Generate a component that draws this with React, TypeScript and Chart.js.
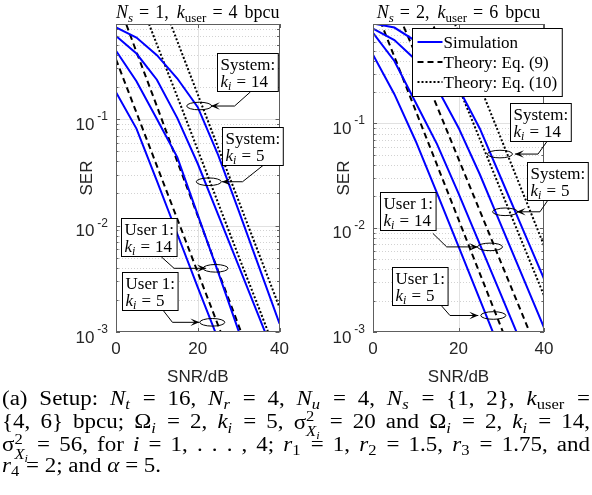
import React, { useEffect, useRef } from 'react';
import { Chart, registerables } from 'chart.js';

Chart.register(...registerables);

// ---------- data ----------
const SNR_DB = [0, 5, 10, 15, 20, 25, 30, 35, 40];
const X_TICKS = [0, 20, 40];
const Y_DECADES = [1e-3, 1e-2, 1e-1];
const Y_DECADE_EXP = ['-3', '-2', '-1'];
const LEGEND_LABELS = ['Simulation', 'Theory: Eq. (9)', 'Theory: Eq. (10)'];

// Left panel: Ns = 1, k_user = 4 bpcu
const leftSimSys14 = [0.724, 0.582, 0.398, 0.240, 0.129, 0.0457, 0.0138, 0.00407, 0.0012];
const leftSimSys5 = [0.603, 0.412, 0.234, 0.102, 0.038, 0.0126, 0.00417, 0.00138, 0.000457];
const leftSimUser14 = [0.437, 0.226, 0.1, 0.0437, 0.0126, 0.00363, 0.00102, 0.000316];
const leftSimUser5 = [0.178, 0.0813, 0.0263, 0.00832, 0.00263, 0.000851, 0.000275];
const leftEq9User5 = [0.363, 0.115, 0.0363, 0.0115, 0.00363, 0.00115, 0.000363];
const leftEq9User14 = [1.41, 0.427, 0.132, 0.0398, 0.0123, 0.00372, 0.00115, 0.000347];
const leftEq10Sys5 = [5.0, 1.58, 0.501, 0.162, 0.0512, 0.0162, 0.00513, 0.00166, 0.000525];
const leftEq10Sys14 = [17.0, 5.37, 1.7, 0.537, 0.17, 0.0537, 0.017, 0.00537, 0.0017];

// Right panel: Ns = 2, k_user = 6 bpcu
const rightSimSys14 = [0.912, 0.832, 0.617, 0.38, 0.219, 0.0891, 0.0295, 0.00977, 0.00324];
const rightSimSys5 = [0.813, 0.631, 0.407, 0.219, 0.0912, 0.0324, 0.0105, 0.00339, 0.0011];
const rightSimUser14 = [0.741, 0.398, 0.158, 0.0631, 0.0214, 0.00692, 0.00224, 0.000724];
const rightSimUser5 = [0.457, 0.191, 0.0676, 0.0214, 0.00661, 0.00204, 0.000631];
const rightEq9User5 = [1.445, 0.437, 0.132, 0.0398, 0.012, 0.00363, 0.0011, 0.000331];
const rightEq9User14 = [4.35, 1.38, 0.457, 0.145, 0.0457, 0.0145, 0.00457, 0.00145, 0.000457];
const rightEq10Sys5 = [22.4, 7.08, 2.24, 0.708, 0.224, 0.0708, 0.0224, 0.00708, 0.00224];
const rightEq10Sys14 = [81.3, 25.1, 7.76, 2.4, 0.741, 0.229, 0.0708, 0.0219, 0.00676];

// Annotation anchors in data units [SNR dB, SER]
const leftNotes = [
  { kind: 'System:', k: '14', box: [24.7, 0.414], arrow: [[32.9, 0.18], [29.0, 0.1324], [23.2, 0.1324]], ellipse: [20.35, 0.1324] },
  { kind: 'System:', k: '5', box: [25.9, 0.0847], arrow: [[36.7, 0.0386], [30.95, 0.02576], [25.9, 0.02576]], ellipse: [22.7, 0.02576] },
  { kind: 'User 1:', k: '14', box: [1.33, 0.01169], arrow: [[11.06, 0.00509], [14.2, 0.003963], [22.0, 0.003963]], ellipse: [24.33, 0.003963] },
  { kind: 'User 1:', k: '5', box: [1.57, 0.003681], arrow: [[11.46, 0.00161], [13.8, 0.001233], [20.4, 0.001233]], ellipse: [23.55, 0.001233] },
];
const rightNotes = [
  { kind: 'System:', k: '14', box: [32.05, 0.156], arrow: [[42.1, 0.0809], [38.6, 0.0509], [33.2, 0.0509]], ellipse: [29.7, 0.0509] },
  { kind: 'System:', k: '5', box: [36.0, 0.04266], arrow: [[41.4, 0.01968], [39.06, 0.01422], [33.6, 0.01422]], ellipse: [30.9, 0.01422] },
  { kind: 'User 1:', k: '14', box: [1.64, 0.02183], arrow: [[14.0, 0.00883], [17.24, 0.00655], [24.56, 0.00655]], ellipse: [27.37, 0.00655] },
  { kind: 'User 1:', k: '5', box: [4.37, 0.004227], arrow: [[15.67, 0.001854], [18.0, 0.00144], [24.63, 0.00144]], ellipse: [28.14, 0.00144] },
];
const rightLegendAnchor = [9.05, 0.816];

// ---------- helpers ----------
type Seg = { t?: string; it?: boolean; sub?: boolean; gap?: number };
const SERIF = '"Liberation Serif", "Times New Roman", serif';
const SANS = '"Liberation Sans", Arial, sans-serif';

function segFont(s: Seg, size: number) {
  const sz = s.sub ? Math.round(size * 0.72) : size;
  return `${s.it ? 'italic ' : ''}${sz}px ${SERIF}`;
}
function richWidth(ctx: CanvasRenderingContext2D, segs: Seg[], size: number) {
  let w = 0;
  for (const s of segs) {
    if (s.gap) { w += s.gap; continue; }
    ctx.font = segFont(s, size);
    w += ctx.measureText(s.t || '').width;
  }
  return w;
}
function drawRich(ctx: CanvasRenderingContext2D, segs: Seg[], x: number, y: number, size: number, align = 'left') {
  const w = richWidth(ctx, segs, size);
  let cx = align === 'center' ? x - w / 2 : x;
  ctx.textAlign = 'left';
  ctx.textBaseline = 'alphabetic';
  for (const s of segs) {
    if (s.gap) { cx += s.gap; continue; }
    ctx.font = segFont(s, size);
    const dy = s.sub ? size * 0.22 : 0;
    ctx.fillText(s.t || '', cx, y + dy);
    cx += ctx.measureText(s.t || '').width;
  }
}
function kLine(k: string): Seg[] {
  return [{ t: 'k', it: true }, { t: 'i', it: true, sub: true }, { gap: 5 }, { t: '=' }, { gap: 5 }, { t: k }];
}

type Panel = {
  title: Seg[];
  ymax: number;
  padRight: number;
  series: { data: number[]; kind: 'sim' | 'eq9' | 'eq10' }[];
  notes: typeof leftNotes;
  legend?: number[];
};

function drawArrow(ctx: CanvasRenderingContext2D, pts: number[][]) {
  ctx.beginPath();
  ctx.moveTo(pts[0][0], pts[0][1]);
  for (let i = 1; i < pts.length; i++) ctx.lineTo(pts[i][0], pts[i][1]);
  ctx.stroke();
  const [tx, ty] = pts[pts.length - 1];
  const [px, py] = pts[pts.length - 2];
  const dx = tx - px, dy = ty - py;
  const L = Math.hypot(dx, dy) || 1;
  const ux = dx / L, uy = dy / L;
  const len = 9, hw = 3.8;
  const bx = tx - ux * len, by = ty - uy * len;
  ctx.beginPath();
  ctx.moveTo(tx, ty);
  ctx.lineTo(bx - uy * hw, by + ux * hw);
  ctx.lineTo(tx - ux * len * 0.55, ty - uy * len * 0.55);
  ctx.lineTo(bx + uy * hw, by - ux * hw);
  ctx.closePath();
  ctx.fill();
}

function makePlugin(panel: Panel) {
  return {
    id: 'matlabLook',
    beforeDatasetsDraw(chart: any) {
      const { ctx, chartArea: a, scales } = chart;
      const x = scales.x, y = scales.y;
      ctx.save();
      ctx.lineWidth = 1;
      // vertical major grid
      ctx.strokeStyle = '#e1e1e1';
      for (const v of X_TICKS) {
        const px = Math.round(x.getPixelForValue(v)) + 0.5;
        if (px <= a.left + 1 || px >= a.right - 1) continue;
        ctx.beginPath(); ctx.moveTo(px, a.top); ctx.lineTo(px, a.bottom); ctx.stroke();
      }
      // horizontal grid (log)
      for (let d = -3; d <= 0; d++) {
        for (let k = 1; k <= 9; k++) {
          const v = k * Math.pow(10, d);
          if (v <= 1e-3 * 1.0001 || v >= panel.ymax) continue;
          const py = Math.round(y.getPixelForValue(v)) + 0.5;
          if (k === 1) { ctx.strokeStyle = '#e1e1e1'; ctx.setLineDash([]); }
          else { ctx.strokeStyle = '#d2d2d2'; ctx.setLineDash([1, 2]); }
          ctx.beginPath(); ctx.moveTo(a.left, py); ctx.lineTo(a.right, py); ctx.stroke();
        }
      }
      ctx.setLineDash([]);
      ctx.restore();
    },
    afterDatasetsDraw(chart: any) {
      const { ctx, chartArea: a, scales } = chart;
      const x = scales.x, y = scales.y;
      ctx.save();
      // axes box
      ctx.strokeStyle = '#5e5e5e';
      ctx.lineWidth = 1;
      ctx.strokeRect(Math.round(a.left) + 0.5, Math.round(a.top) + 0.5, Math.round(a.right - a.left) - 1, Math.round(a.bottom - a.top) - 1);
      // tick marks (inward)
      ctx.beginPath();
      for (const v of X_TICKS) {
        const px = Math.round(x.getPixelForValue(v)) + 0.5;
        ctx.moveTo(px, a.bottom); ctx.lineTo(px, a.bottom - 4);
        ctx.moveTo(px, a.top); ctx.lineTo(px, a.top + 4);
      }
      for (let d = -3; d <= 0; d++) {
        for (let k = 1; k <= 9; k++) {
          const v = k * Math.pow(10, d);
          if (v < 1e-3 * 0.999 || v > panel.ymax) continue;
          const py = Math.round(y.getPixelForValue(v)) + 0.5;
          const len = k === 1 ? 4 : 2.5;
          ctx.moveTo(a.left, py); ctx.lineTo(a.left + len, py);
          ctx.moveTo(a.right, py); ctx.lineTo(a.right - len, py);
        }
      }
      ctx.stroke();

      // annotations
      ctx.strokeStyle = '#000';
      ctx.fillStyle = '#000';
      ctx.lineWidth = 1;
      for (const n of panel.notes) {
        const ex = x.getPixelForValue(n.ellipse[0]);
        const ey = y.getPixelForValue(n.ellipse[1]);
        ctx.beginPath();
        ctx.ellipse(ex, ey, 12.5, 3.8, 0, 0, Math.PI * 2);
        ctx.stroke();
        const pts = n.arrow.map((p) => [x.getPixelForValue(p[0]), y.getPixelForValue(p[1])]);
        drawArrow(ctx, pts);
        const bx = Math.round(x.getPixelForValue(n.box[0])) + 0.5;
        const by = Math.round(y.getPixelForValue(n.box[1])) + 0.5;
        const l1: Seg[] = [{ t: n.kind }];
        const l2 = kLine(n.k);
        const w = Math.max(richWidth(ctx, l1, 17), richWidth(ctx, l2, 17)) + 6;
        const h = 38;
        ctx.fillStyle = '#fff';
        ctx.fillRect(bx, by, w, h);
        ctx.strokeRect(bx, by, w, h);
        ctx.fillStyle = '#000';
        drawRich(ctx, l1, bx + 3, by + 16, 17);
        drawRich(ctx, l2, bx + 3, by + 33, 17);
      }

      // legend
      if (panel.legend) {
        const lx = Math.round(x.getPixelForValue(panel.legend[0])) + 0.5;
        const ly = Math.round(y.getPixelForValue(panel.legend[1])) + 0.5;
        ctx.font = `17px ${SERIF}`;
        const tw = Math.max(...LEGEND_LABELS.map((s) => ctx.measureText(s).width));
        const w = 31 + tw + 5;
        const h = 68;
        ctx.fillStyle = '#fff';
        ctx.fillRect(lx, ly, w, h);
        ctx.strokeStyle = '#000';
        ctx.lineWidth = 1;
        ctx.strokeRect(lx, ly, w, h);
        const styles = [
          { c: '#0000ff', dash: [] as number[] },
          { c: '#000', dash: [6, 4] },
          { c: '#000', dash: [2, 2] },
        ];
        LEGEND_LABELS.forEach((lab, i) => {
          const cy = ly + 13.5 + i * 20;
          ctx.strokeStyle = styles[i].c;
          ctx.lineWidth = 2;
          ctx.setLineDash(styles[i].dash);
          ctx.beginPath(); ctx.moveTo(lx + 5, cy); ctx.lineTo(lx + 30, cy); ctx.stroke();
          ctx.setLineDash([]);
          ctx.fillStyle = '#000';
          ctx.font = `17px ${SERIF}`;
          ctx.textAlign = 'left';
          ctx.textBaseline = 'alphabetic';
          ctx.fillText(lab, lx + 31, cy + 5.5);
        });
      }
      ctx.restore();
    },
    afterDraw(chart: any) {
      const { ctx, chartArea: a, scales } = chart;
      const y = scales.y;
      ctx.save();
      ctx.fillStyle = '#262626';
      // y tick labels 10^-k
      Y_DECADES.forEach((v, i) => {
        const py = y.getPixelForValue(v);
        const exp = Y_DECADE_EXP[i];
        ctx.textAlign = 'left';
        ctx.textBaseline = 'alphabetic';
        ctx.font = `12px ${SANS}`;
        const ew = ctx.measureText(exp).width;
        const er = a.left - 8;
        ctx.fillText(exp, er - ew, py + 1);
        ctx.font = `17px ${SANS}`;
        const bw = ctx.measureText('10').width;
        ctx.fillText('10', er - ew - 3 - bw, py + 10.5);
      });
      // title
      ctx.fillStyle = '#000';
      drawRich(ctx, panel.title, (a.left + a.right) / 2, 18, 18, 'center');
      ctx.restore();
    },
  };
}

function PanelChart({ panel, left, width }: { panel: Panel; left: number; width: number }) {
  const ref = useRef<HTMLCanvasElement | null>(null);
  useEffect(() => {
    if (!ref.current) return;
    const style = (kind: string) =>
      kind === 'sim'
        ? { borderColor: '#0000ff', borderDash: [] as number[] }
        : kind === 'eq9'
        ? { borderColor: '#000000', borderDash: [6, 4] }
        : { borderColor: '#000000', borderDash: [2, 2] };
    const label = (kind: string) => (kind === 'sim' ? LEGEND_LABELS[0] : kind === 'eq9' ? LEGEND_LABELS[1] : LEGEND_LABELS[2]);
    const chart = new Chart(ref.current, {
      type: 'line',
      data: {
        datasets: panel.series.map((s) => ({
          label: label(s.kind),
          data: s.data.map((v, i) => ({ x: SNR_DB[i], y: v })),
          borderWidth: 2,
          pointRadius: 0,
          tension: 0,
          fill: false,
          clip: 0,
          ...style(s.kind),
        })),
      },
      options: {
        responsive: false,
        animation: false,
        devicePixelRatio: 1,
        layout: { padding: { left: 0, right: panel.padRight, top: 24, bottom: 0 } },
        plugins: { legend: { display: false }, tooltip: { enabled: false }, title: { display: false } },
        scales: {
          x: {
            type: 'linear',
            min: 0,
            max: 40,
            grid: { display: false, drawTicks: false },
            border: { display: false },
            ticks: { stepSize: 20, color: '#262626', font: { family: SANS, size: 17 }, padding: 7, maxRotation: 0 },
            title: { display: true, text: 'SNR/dB', color: '#262626', font: { family: SANS, size: 17 }, padding: { top: 0, bottom: 7 } },
            afterFit: (s: any) => { s.height = 63; },
          },
          y: {
            type: 'logarithmic',
            min: 1e-3,
            max: panel.ymax,
            grid: { display: false, drawTicks: false },
            border: { display: false },
            ticks: { display: false },
            title: { display: true, text: 'SER', color: '#262626', font: { family: SANS, size: 17 }, padding: { top: 7, bottom: 0 } },
            afterFit: (s: any) => { s.width = 46; },
          },
        },
      },
      plugins: [makePlugin(panel)],
    } as any);
    return () => chart.destroy();
  }, [panel]);
  return (
    <canvas
      ref={ref}
      width={width}
      height={395}
      style={{ position: 'absolute', left, top: 0, width, height: 395 }}
    />
  );
}

const leftPanel: Panel = {
  title: [{ t: 'N', it: true }, { t: 's', it: true, sub: true }, { gap: 6 }, { t: '=' }, { gap: 6 }, { t: '1,' }, { gap: 8 }, { t: 'k', it: true }, { t: 'user', sub: true }, { gap: 6 }, { t: '=' }, { gap: 6 }, { t: '4' }, { gap: 7 }, { t: 'bpcu' }],
  ymax: 0.78,
  padRight: 9,
  series: [
    { data: leftSimSys14, kind: 'sim' },
    { data: leftSimSys5, kind: 'sim' },
    { data: leftSimUser14, kind: 'sim' },
    { data: leftSimUser5, kind: 'sim' },
    { data: leftEq9User5, kind: 'eq9' },
    { data: leftEq9User14, kind: 'eq9' },
    { data: leftEq10Sys5, kind: 'eq10' },
    { data: leftEq10Sys14, kind: 'eq10' },
  ],
  notes: leftNotes,
};

const rightPanel: Panel = {
  title: [{ t: 'N', it: true }, { t: 's', it: true, sub: true }, { gap: 6 }, { t: '=' }, { gap: 6 }, { t: '2,' }, { gap: 8 }, { t: 'k', it: true }, { t: 'user', sub: true }, { gap: 6 }, { t: '=' }, { gap: 6 }, { t: '6' }, { gap: 7 }, { t: 'bpcu' }],
  ymax: 0.9,
  padRight: 48,
  series: [
    { data: rightSimSys14, kind: 'sim' },
    { data: rightSimSys5, kind: 'sim' },
    { data: rightSimUser14, kind: 'sim' },
    { data: rightSimUser5, kind: 'sim' },
    { data: rightEq9User5, kind: 'eq9' },
    { data: rightEq9User14, kind: 'eq9' },
    { data: rightEq10Sys5, kind: 'eq10' },
    { data: rightEq10Sys14, kind: 'eq10' },
  ],
  notes: rightNotes,
  legend: rightLegendAnchor,
};

// ---------- caption ----------
const sub = (c: React.ReactNode, italic = true) => (
  <span style={{ fontSize: '0.72em', verticalAlign: '-0.28em', lineHeight: 0, marginRight: '0.06em', fontStyle: italic ? 'italic' : 'normal' }}>{c}</span>
);
const SigmaX = () => (
  <span style={{ whiteSpace: 'nowrap' }}>
    σ
    <span style={{ display: 'inline-block', verticalAlign: '-0.55em', fontSize: '0.72em', lineHeight: '1.05em', textAlign: 'left' }}>
      <span style={{ display: 'block' }}>2</span>
      <span style={{ display: 'block' }}>
        <i>X</i>
        <span style={{ fontSize: '0.75em', verticalAlign: '-0.25em', fontStyle: 'italic' }}>i</span>
      </span>
    </span>
  </span>
);

const CAPTION_SCALE = 1.15;
const lineStyle = (justify: boolean): React.CSSProperties => ({
  height: 22.3,
  lineHeight: '22.3px',
  textAlign: justify ? 'justify' : 'left',
  textAlignLast: justify ? 'justify' : 'left',
  whiteSpace: 'normal',
});

function Caption() {
  return (
    <div
      style={{
        position: 'absolute',
        left: 2,
        top: 387,
        width: 588 / CAPTION_SCALE,
        transform: `scaleX(${CAPTION_SCALE})`,
        transformOrigin: '0 0',
        fontFamily: SERIF,
        fontSize: 20,
        color: '#000',
      }}
    >
      <div style={lineStyle(true)}>
        (a) Setup: <i>N</i>{sub('t')} = 16, <i>N</i>{sub('r')} = 4, <i>N</i>{sub('u')} = 4, <i>N</i>{sub('s')} = {'{'}1, 2{'}'}, <i>k</i>{sub('user', false)} =
      </div>
      <div style={lineStyle(true)}>
        {'{'}4, 6{'}'} bpcu; Ω{sub('i')} = 2, <i>k</i>{sub('i')} = 5, <SigmaX /> = 20 and Ω{sub('i')} = 2, <i>k</i>{sub('i')} = 14,
      </div>
      <div style={lineStyle(true)}>
        <SigmaX /> = 56, for <i>i</i> = 1, . . . , 4; <i>r</i>{sub('1', false)} = 1, <i>r</i>{sub('2', false)} = 1.5, <i>r</i>{sub('3', false)} = 1.75, and
      </div>
      <div style={lineStyle(false)}>
        <i>r</i>{sub('4', false)} = 2; and <i>α</i> = 5.
      </div>
    </div>
  );
}

export default function App() {
  return (
    <div style={{ position: 'absolute', left: 0, top: 0, width: 592, height: 495, background: '#fff', overflow: 'hidden' }}>
      <PanelChart panel={leftPanel} left={70} width={226} />
      <PanelChart panel={rightPanel} left={327} width={265} />
      <Caption />
    </div>
  );
}
